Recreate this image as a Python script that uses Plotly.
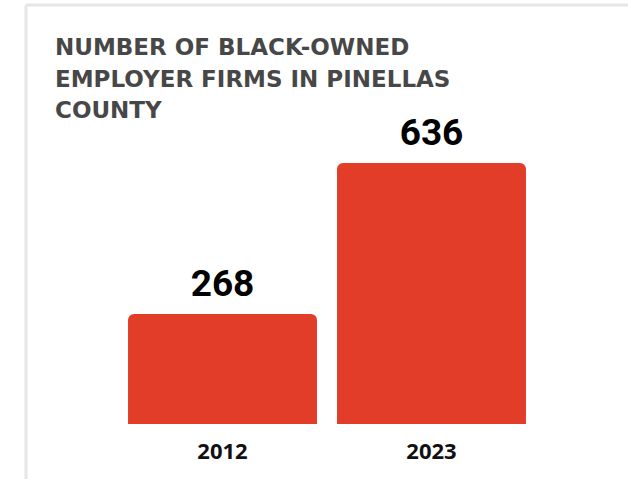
import plotly.graph_objects as go

years = ["2012", "2023"]
firms = [268, 636]
title_lines = ["NUMBER OF BLACK-OWNED", "EMPLOYER FIRMS IN PINELLAS", "COUNTY"]

W, H = 628, 479
ML, MR, MT, MB = 118, 92, 140, 55
PW, PH = W - ML - MR, H - MT - MB

def px_x(px):
    return (px - ML) / PW

def px_y(py):
    return (H - MB - py) / PH

fig = go.Figure()
fig.add_trace(go.Bar(
    x=years, y=firms,
    marker=dict(color="#e23d28", line=dict(width=0)),
    hoverinfo="skip",
))
fig.add_trace(go.Scatter(
    x=years, y=firms, mode="markers+text",
    text=[str(v) for v in firms], textposition="top center",
    marker=dict(size=12, opacity=0),
    textfont=dict(family="Roboto, sans-serif", size=37, color="#000000", weight="bold"),
    hoverinfo="skip", cliponaxis=False,
))

annotations = []
for line, cy in zip(title_lines, [47, 79, 110]):
    annotations.append(dict(
        x=px_x(53), y=px_y(cy), xref="paper", yref="paper", text="<b>" + line + "</b>",
        showarrow=False, xanchor="left", yanchor="middle",
        font=dict(family="DejaVu Sans, sans-serif", size=23, color="#474747"),
    ))

shapes = [
    dict(type="line", xref="paper", yref="paper", x0=px_x(26), x1=px_x(628),
         y0=px_y(5), y1=px_y(5), line=dict(color="#e6e6e6", width=3)),
    dict(type="line", xref="paper", yref="paper", x0=px_x(26), x1=px_x(26),
         y0=px_y(5), y1=px_y(479), line=dict(color="#e6e6e6", width=3)),
]

fig.update_layout(
    width=W, height=H,
    margin=dict(l=ML, r=MR, t=MT, b=MB, pad=0, autoexpand=False),
    paper_bgcolor="#ffffff", plot_bgcolor="#ffffff",
    bargap=0.096, barcornerradius=6,
    showlegend=False,
    annotations=annotations,
    shapes=shapes,
    xaxis=dict(type="category", range=[-0.5, 1.5], showgrid=False, zeroline=False,
               showline=False, ticks="", ticklabelstandoff=12,
               tickfont=dict(family="Open Sans, sans-serif", size=22, color="#111111", weight="bold")),
    yaxis=dict(range=[0, 692], visible=False, showgrid=False, zeroline=False),
)

fig.write_html("out.html", config={"displayModeBar": False},
               post_script="document.body.style.margin='0';")
